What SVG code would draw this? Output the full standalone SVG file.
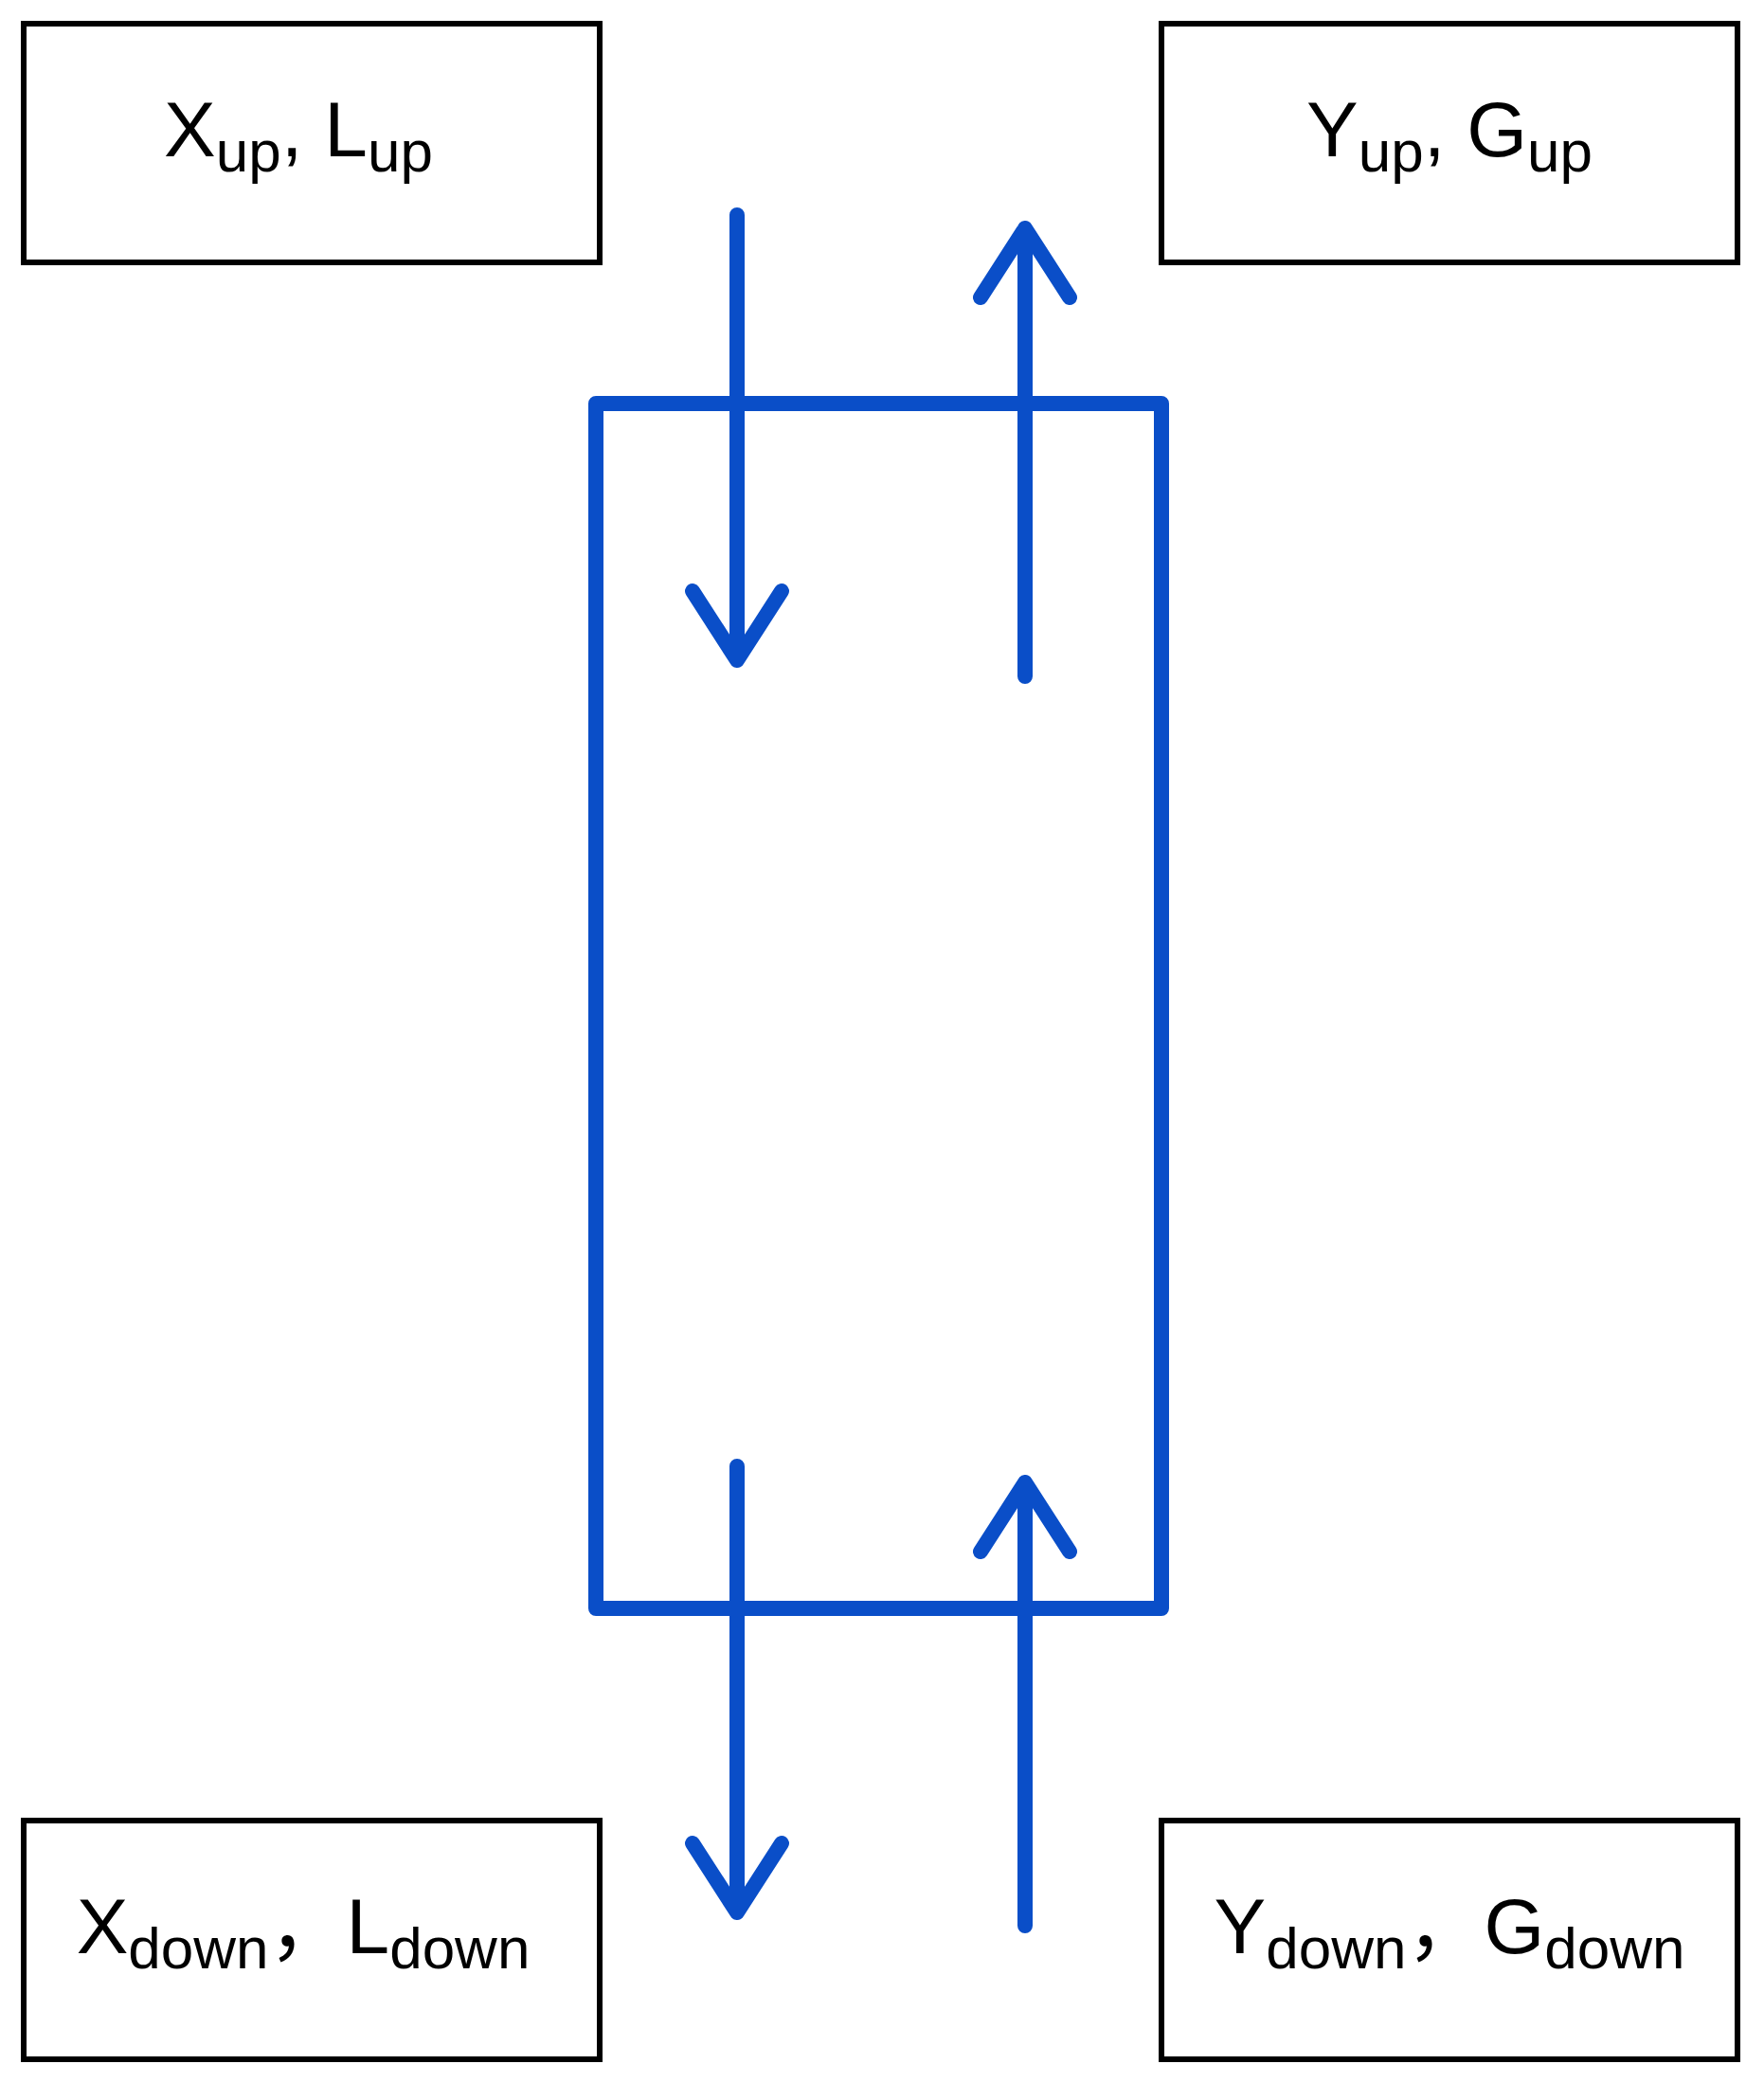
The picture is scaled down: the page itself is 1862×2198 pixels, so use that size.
<svg xmlns="http://www.w3.org/2000/svg" width="1862" height="2198" viewBox="0 0 1862 2198">
<style>
.box{fill:#fff;stroke:#000;stroke-width:6}
.t{font-family:"Liberation Sans","Noto Sans CJK SC",Arial,sans-serif;font-size:82px;fill:#000;text-anchor:middle}
.s{font-size:62px}
.b{fill:none;stroke:#0a4ec8;stroke-width:16;stroke-linecap:round;stroke-linejoin:round}
</style>
<rect width="1862" height="2198" fill="#fff"/>
<g id="xup"><rect class="box" x="25" y="25" width="608" height="252"/><text class="t" x="315" y="165">X<tspan class="s" dy="16">up</tspan><tspan dy="-16">, L</tspan><tspan class="s" dy="16">up</tspan></text></g>
<g id="yup"><rect class="box" x="1226" y="25" width="608" height="252"/><text class="t" x="1530" y="165">Y<tspan class="s" dy="16">up</tspan><tspan dy="-16">, G</tspan><tspan class="s" dy="16">up</tspan></text></g>
<g id="xdown"><rect class="box" x="25" y="1922" width="608" height="252"/><text class="t" x="320" y="2062">X<tspan class="s" dy="16">down</tspan><tspan dy="-16">，L</tspan><tspan class="s" dy="16">down</tspan></text></g>
<g id="ydown"><rect class="box" x="1226" y="1922" width="608" height="252"/><text class="t" x="1530" y="2062">Y<tspan class="s" dy="16">down</tspan><tspan dy="-16">，G</tspan><tspan class="s" dy="16">down</tspan></text></g>
<g id="column"><rect class="b" x="629" y="426" width="597" height="1272"/></g>
<g id="connectors">
<path class="b" d="M778 227V697M731 624L778 697L825 624"/>
<path class="b" d="M1082 714V241M1035 314L1082 241L1129 314"/>
<path class="b" d="M778 1548V2019M731 1946L778 2019L825 1946"/>
<path class="b" d="M1082 2033V1565M1035 1638L1082 1565L1129 1638"/>
</g>
</svg>
